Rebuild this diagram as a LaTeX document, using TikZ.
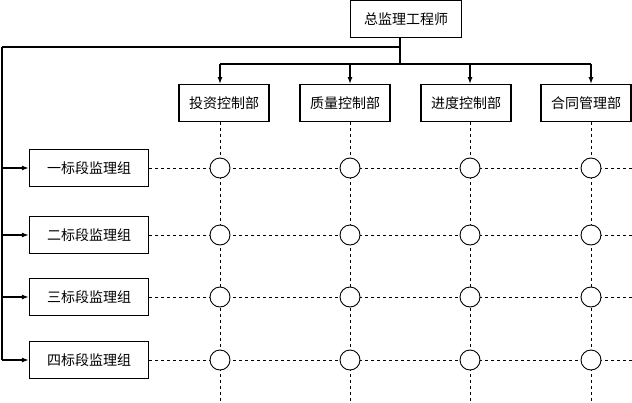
\documentclass[tikz,border=0pt]{standalone}
\usepackage{fontspec}
\setmainfont{Noto Sans CJK SC}
\usetikzlibrary{arrows.meta}
\tikzset{
  box/.style={draw, line width=1.3pt, minimum height=37pt, inner sep=2pt, font=\fontsize{14}{16}\selectfont},
  link/.style={line width=1.3pt, -{Latex[length=7pt,width=5pt]}},
  grid/.style={dashed, line width=0.9pt},
  cross/.style={circle, draw, line width=0.9pt, fill=white, minimum size=20pt, inner sep=0pt}
}
\begin{document}
\begin{tikzpicture}[x=1pt, y=-1pt]
\useasboundingbox (0,0) rectangle (632,402);
\node[box, minimum width=111pt] (chief) at (406,19) {总监理工程师};
\coordinate (j) at (400,47);
\coordinate (left) at (2,47);
\coordinate (b) at (400,64);
\draw[line width=1.3pt] (j |- chief.south) -- (b);
\draw[line width=1.3pt] (j) -- (left);
% departments
\foreach \name/\x/\txt in {inv/224/投资控制部, qua/345/质量控制部, sch/466/进度控制部, con/586/合同管理部} {
  \node[box, minimum width=90pt] (\name) at (\x,103) {\txt};
}
\draw[line width=1.3pt] (220,64) -- (591,64);
\foreach \name/\x in {inv/220, qua/350, sch/470, con/591} {
  \coordinate (t\name) at (\x,64);
  \draw[link] (t\name) -- (\x,84);
  \draw[grid] (\x,122) -- (\x,402);
}
% section groups
\foreach \i/\y/\txt in {1/168/一标段监理组, 2/235/二标段监理组, 3/297/三标段监理组, 4/360/四标段监理组} {
  \node[box, minimum width=119pt] (g\i) at (89,\y) {\txt};
  \coordinate (l\i) at (2,\y);
  \draw[link] (l\i) -- (g\i);
  \draw[grid] (g\i.east) -- (632,\y);
  \foreach \x in {220,350,470,591} \node[cross] at (\x,\y) {};
}
\draw[line width=1.3pt] (left) -- (l4);
\end{tikzpicture}
\end{document}
